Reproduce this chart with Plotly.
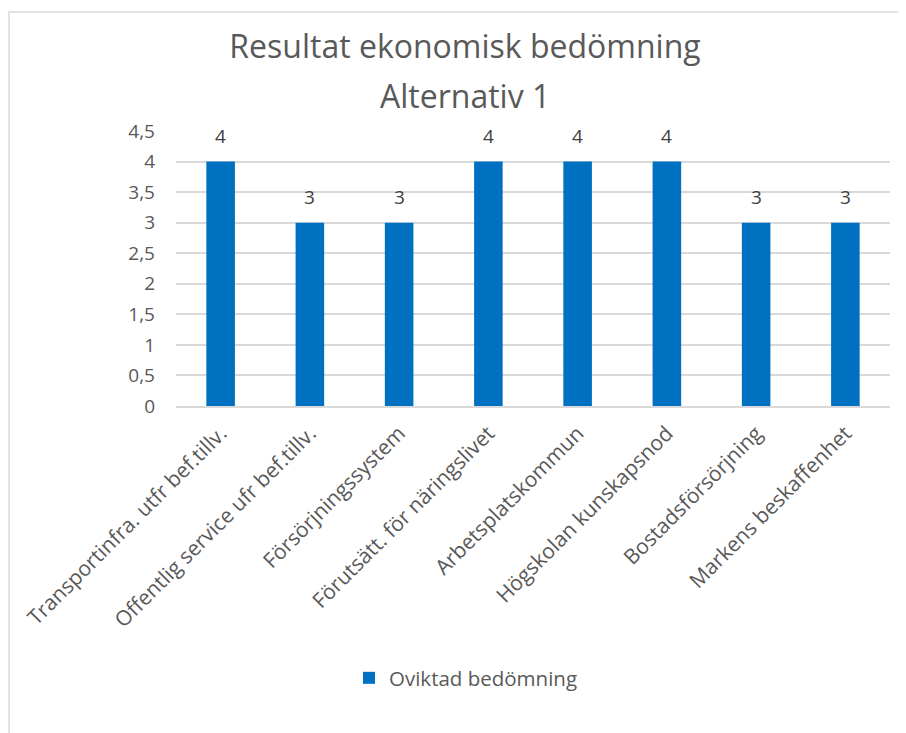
import plotly.graph_objects as go

categories = [
    "Transportinfra. utfr bef.tillv.",
    "Offentlig service ufr bef.tillv.",
    "Försörjningssystem",
    "Förutsätt. för näringslivet",
    "Arbetsplatskommun",
    "Högskolan kunskapsnod",
    "Bostadsförsörjning",
    "Markens beskaffenhet",
]
values = [4, 3, 3, 4, 4, 4, 3, 3]
series_name = "Oviktad bedömning"
title_line1 = "Resultat ekonomisk bedömning"
title_line2 = "Alternativ 1"
y_ticks = [0, 0.5, 1, 1.5, 2, 2.5, 3, 3.5, 4, 4.5]
y_tick_text = ["0", "0,5", "1", "1,5", "2", "2,5", "3", "3,5", "4", "4,5"]

FONT = "Open Sans, Lato, sans-serif"
TXT = "#595959"
W, H = 906, 733
L, R, T, B = 168, 24, 123, 335
pw, ph = W - L - R, H - T - B


def py(fig_y):
    return (T + ph - fig_y) / ph


def px(fig_x):
    return (fig_x - L) / pw


fig = go.Figure(go.Bar(
    x=categories, y=values, name=series_name,
    marker=dict(color="#0070C0", line=dict(width=0)),
))

annotations = [
    dict(x=c, y=v, xref="x", yref="y", text=str(v), showarrow=False,
         yshift=26, font=dict(size=19, color="#404040", family=FONT))
    for c, v in zip(categories, values)
]
annotations.append(dict(x=px(457), y=py(87), xref="paper", yref="paper",
                        text=title_line2, showarrow=False, xanchor="center",
                        yanchor="middle",
                        font=dict(size=32, color=TXT, family=FONT)))

fig.update_layout(
    width=W, height=H,
    margin=dict(l=L, r=R, t=T, b=B),
    paper_bgcolor="white", plot_bgcolor="white",
    font=dict(family=FONT, color=TXT),
    title=dict(text=title_line1, x=457 / W, xanchor="center",
               y=1 - 39 / H, yanchor="middle",
               font=dict(size=32, color=TXT, family=FONT)),
    bargap=0.68,
    showlegend=True,
    legend=dict(orientation="h", x=px(458), xanchor="center",
                y=py(670), yanchor="middle",
                font=dict(size=20.5, color=TXT, family=FONT)),
    xaxis=dict(tickangle=-45, tickfont=dict(size=21, color=TXT, family=FONT),
               showgrid=False, showline=True, linecolor="#D9D9D9", linewidth=1.5,
               ticks="", ticklabelstandoff=5),
    yaxis=dict(range=[0, 4.5], tickvals=y_ticks, ticktext=y_tick_text,
               tickfont=dict(size=19, color=TXT, family=FONT),
               showgrid=True, gridcolor="#D9D9D9", gridwidth=1.5,
               zeroline=False, showline=False, ticks="", ticklabelstandoff=20),
    annotations=annotations,
    shapes=[dict(type="rect", xref="paper", yref="paper",
                 x0=px(1), x1=px(W + 20), y0=py(H + 20), y1=py(4),
                 line=dict(color="#D9D9D9", width=1.5), layer="below")],
)

fig.write_html("out.html")
